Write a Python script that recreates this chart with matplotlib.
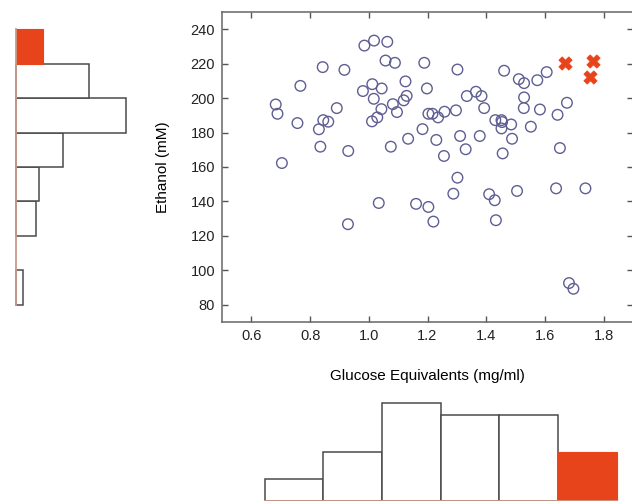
import matplotlib
matplotlib.use('Agg')
import matplotlib.pyplot as plt

plt.rcParams['font.family'] = ['Liberation Sans', 'DejaVu Sans']

# scatter data (glucose mg/ml, ethanol mM)
glucose = [0.683, 0.689, 0.767, 0.704, 0.757, 0.843, 0.830, 0.845, 0.862, 0.891,
           0.835, 0.917, 0.930, 0.985, 1.018, 1.063, 1.057, 1.089, 0.980, 1.012,
           1.044, 1.017, 1.043, 1.029, 1.011, 1.082, 1.096, 1.075, 0.929, 1.034,
           1.189, 1.125, 1.198, 1.129, 1.119, 1.134, 1.183, 1.203, 1.217, 1.236,
           1.258, 1.230, 1.302, 1.297, 1.334, 1.365, 1.384, 1.393, 1.311, 1.378,
           1.330, 1.256, 1.461, 1.431, 1.452, 1.454, 1.452, 1.485, 1.488, 1.456,
           1.511, 1.529, 1.574, 1.606, 1.529, 1.528, 1.583, 1.552, 1.643, 1.675,
           1.651, 1.302, 1.288, 1.161, 1.203, 1.220, 1.410, 1.429, 1.433, 1.505,
           1.638, 1.738, 1.682, 1.697]
ethanol = [196.3, 190.9, 207.1, 162.3, 185.5, 218.0, 181.9, 187.2, 186.3, 194.2,
           171.8, 216.4, 169.3, 230.5, 233.4, 232.7, 221.8, 220.5, 204.1, 208.1,
           205.6, 199.6, 193.6, 188.8, 186.5, 196.5, 191.9, 171.8, 126.8, 139.1,
           220.5, 209.7, 205.6, 201.3, 198.7, 176.4, 182.0, 190.9, 190.9, 188.8,
           192.1, 175.7, 216.6, 192.9, 201.2, 203.7, 201.2, 194.2, 178.0, 178.0,
           170.3, 166.4, 215.9, 187.2, 187.2, 186.1, 182.4, 184.7, 176.4, 167.9,
           211.0, 208.7, 210.4, 215.1, 200.4, 194.2, 193.4, 183.4, 190.3, 197.3,
           171.0, 153.8, 144.5, 138.6, 136.8, 128.3, 144.2, 140.7, 129.1, 146.1,
           147.6, 147.6, 92.6, 89.3]

# selected points
sel_glucose = [1.670, 1.764, 1.752]
sel_ethanol = [220.5, 221.8, 212.0]

# ethanol histogram (left), bins 80..240
eth_edges = [80, 100, 120, 140, 160, 180, 200, 220, 240]
eth_counts = [2, 0, 6, 7, 14, 33, 22, 8]
eth_selected = [False, False, False, False, False, False, False, True]

# glucose histogram (bottom)
glu_edges = [0.645, 0.845, 1.045, 1.245, 1.445, 1.645, 1.845]
glu_counts = [5, 11.5, 23, 20.3, 20.3, 11.5]
glu_selected = [False, False, False, False, False, True]

W, H = 632, 503
fig = plt.figure(figsize=(W / 100, H / 100), dpi=100)

def box(l, t, r, b):
    return [l / W, 1 - b / H, (r - l) / W, (b - t) / H]

red = '#e8441b'
edge = '#4a4a4a'
base = '#c99a88'
circ = '#5e5e92'

# main scatter
ax = fig.add_axes(box(222, 12, 633, 322))
ax.scatter(glucose, ethanol, s=58, facecolors='none', edgecolors=circ, linewidths=1.0, zorder=3)
ax.scatter(sel_glucose, sel_ethanol, s=90, marker='X', color=red, edgecolors=red, linewidths=0.6, zorder=4)
ax.set_xlim(0.5, 1.9)
ax.set_ylim(70, 250)
ax.set_xticks([0.6, 0.8, 1.0, 1.2, 1.4, 1.6, 1.8])
ax.set_yticks(range(80, 241, 20))
ax.tick_params(direction='in', top=True, right=True, length=4, width=1,
               color='#555555', labelsize=10.5, labelcolor='#222222', pad=5)
for s in ax.spines.values():
    s.set_color('#666666')
    s.set_linewidth(1.1)
ax.set_xlabel('Glucose Equivalents (mg/ml)', fontsize=11, labelpad=19)
ax.set_ylabel('Ethanol (mM)', fontsize=11, labelpad=15)

# left histogram
axl = fig.add_axes(box(15, 12, 140, 322))
for i in range(len(eth_counts)):
    lo, hi = eth_edges[i], eth_edges[i + 1]
    if eth_selected[i]:
        axl.barh(lo, eth_counts[i], height=hi - lo, align='edge', color=red, edgecolor=red, linewidth=0.8)
    elif eth_counts[i] > 0:
        axl.barh(lo, eth_counts[i], height=hi - lo, align='edge', color='white', edgecolor=edge, linewidth=1.1)
axl.plot([0, 0], [eth_edges[0], eth_edges[-1]], color=base, lw=1.3)
axl.set_ylim(70, 250)
axl.set_xlim(-0.3, 125 / 3.35)
axl.axis('off')

# bottom histogram
axb = fig.add_axes(box(222, 395, 633, 501))
for i in range(len(glu_counts)):
    lo, hi = glu_edges[i], glu_edges[i + 1]
    if glu_selected[i]:
        axb.bar(lo, glu_counts[i], width=hi - lo, align='edge', color=red, edgecolor=red, linewidth=0.8)
    else:
        axb.bar(lo, glu_counts[i], width=hi - lo, align='edge', color='white', edgecolor=edge, linewidth=1.1)
axb.plot([glu_edges[0], glu_edges[-1]], [0, 0], color=base, lw=1.3)
axb.set_xlim(0.5, 1.9)
axb.set_ylim(-0.1, 106 / 4.24)
axb.axis('off')

fig.savefig('out.png', dpi=100)
